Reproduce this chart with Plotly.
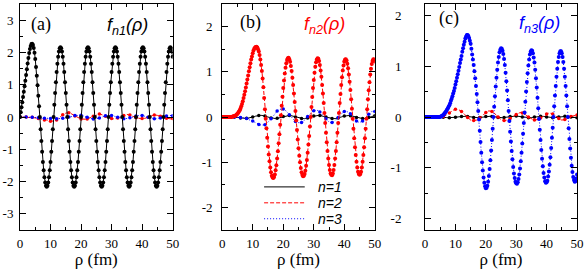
import plotly.graph_objects as go

# ---------------- data ----------------
# coarse grid (0.5 fm) used by the small-amplitude curves
rho = [0.0, 0.5, 1.0, 1.5, 2.0, 2.5, 3.0, 3.5, 4.0, 4.5,
       5.0, 5.5, 6.0, 6.5, 7.0, 7.5, 8.0, 8.5, 9.0, 9.5,
       10.0, 10.5, 11.0, 11.5, 12.0, 12.5, 13.0, 13.5, 14.0, 14.5,
       15.0, 15.5, 16.0, 16.5, 17.0, 17.5, 18.0, 18.5, 19.0, 19.5,
       20.0, 20.5, 21.0, 21.5, 22.0, 22.5, 23.0, 23.5, 24.0, 24.5,
       25.0, 25.5, 26.0, 26.5, 27.0, 27.5, 28.0, 28.5, 29.0, 29.5,
       30.0, 30.5, 31.0, 31.5, 32.0, 32.5, 33.0, 33.5, 34.0, 34.5,
       35.0, 35.5, 36.0, 36.5, 37.0, 37.5, 38.0, 38.5, 39.0, 39.5,
       40.0, 40.5, 41.0, 41.5, 42.0, 42.5, 43.0, 43.5, 44.0, 44.5,
       45.0, 45.5, 46.0, 46.5, 47.0, 47.5, 48.0, 48.5, 49.0, 49.5,
       50.0]

# fine grid (0.25 fm) used by the dominant curve of each panel
rho_fine = [0.0, 0.25, 0.5, 0.75, 1.0, 1.25, 1.5, 1.75,
            2.0, 2.25, 2.5, 2.75, 3.0, 3.25, 3.5, 3.75,
            4.0, 4.25, 4.5, 4.75, 5.0, 5.25, 5.5, 5.75,
            6.0, 6.25, 6.5, 6.75, 7.0, 7.25, 7.5, 7.75,
            8.0, 8.25, 8.5, 8.75, 9.0, 9.25, 9.5, 9.75,
            10.0, 10.25, 10.5, 10.75, 11.0, 11.25, 11.5, 11.75,
            12.0, 12.25, 12.5, 12.75, 13.0, 13.25, 13.5, 13.75,
            14.0, 14.25, 14.5, 14.75, 15.0, 15.25, 15.5, 15.75,
            16.0, 16.25, 16.5, 16.75, 17.0, 17.25, 17.5, 17.75,
            18.0, 18.25, 18.5, 18.75, 19.0, 19.25, 19.5, 19.75,
            20.0, 20.25, 20.5, 20.75, 21.0, 21.25, 21.5, 21.75,
            22.0, 22.25, 22.5, 22.75, 23.0, 23.25, 23.5, 23.75,
            24.0, 24.25, 24.5, 24.75, 25.0, 25.25, 25.5, 25.75,
            26.0, 26.25, 26.5, 26.75, 27.0, 27.25, 27.5, 27.75,
            28.0, 28.25, 28.5, 28.75, 29.0, 29.25, 29.5, 29.75,
            30.0, 30.25, 30.5, 30.75, 31.0, 31.25, 31.5, 31.75,
            32.0, 32.25, 32.5, 32.75, 33.0, 33.25, 33.5, 33.75,
            34.0, 34.25, 34.5, 34.75, 35.0, 35.25, 35.5, 35.75,
            36.0, 36.25, 36.5, 36.75, 37.0, 37.25, 37.5, 37.75,
            38.0, 38.25, 38.5, 38.75, 39.0, 39.25, 39.5, 39.75,
            40.0, 40.25, 40.5, 40.75, 41.0, 41.25, 41.5, 41.75,
            42.0, 42.25, 42.5, 42.75, 43.0, 43.25, 43.5, 43.75,
            44.0, 44.25, 44.5, 44.75, 45.0, 45.25, 45.5, 45.75,
            46.0, 46.25, 46.5, 46.75, 47.0, 47.25, 47.5, 47.75,
            48.0, 48.25, 48.5, 48.75, 49.0, 49.25, 49.5, 49.75,
            50.0]

# panel (a): f_n1
f11 = [0.00, 0.15, 0.30, 0.46, 0.62, 0.78, 0.95, 1.12,
       1.30, 1.48, 1.66, 1.83, 1.98, 2.11, 2.20, 2.26,
       2.27, 2.23, 2.14, 1.99, 1.80, 1.55, 1.28, 0.98,
       0.66, 0.33, 0.00, -0.38, -0.74, -1.08, -1.39, -1.65,
       -1.87, -2.03, -2.13, -2.16, -2.13, -2.03, -1.87, -1.65,
       -1.39, -1.08, -0.74, -0.38, 0.00, 0.38, 0.74, 1.08,
       1.39, 1.65, 1.87, 2.03, 2.13, 2.16, 2.13, 2.03,
       1.87, 1.65, 1.39, 1.08, 0.74, 0.38, 0.00, -0.38,
       -0.74, -1.08, -1.39, -1.65, -1.87, -2.03, -2.13, -2.16,
       -2.13, -2.03, -1.87, -1.65, -1.39, -1.08, -0.74, -0.38,
       0.00, 0.38, 0.74, 1.08, 1.39, 1.65, 1.87, 2.03,
       2.13, 2.16, 2.13, 2.03, 1.87, 1.65, 1.39, 1.08,
       0.74, 0.38, 0.00, -0.38, -0.74, -1.08, -1.39, -1.65,
       -1.87, -2.03, -2.13, -2.16, -2.13, -2.03, -1.87, -1.65,
       -1.39, -1.08, -0.74, -0.38, 0.00, 0.38, 0.74, 1.08,
       1.39, 1.65, 1.87, 2.03, 2.13, 2.16, 2.13, 2.03,
       1.87, 1.65, 1.39, 1.08, 0.74, 0.38, 0.00, -0.38,
       -0.74, -1.08, -1.39, -1.65, -1.87, -2.03, -2.13, -2.16,
       -2.13, -2.03, -1.87, -1.65, -1.39, -1.08, -0.74, -0.38,
       0.00, 0.38, 0.74, 1.08, 1.39, 1.65, 1.87, 2.03,
       2.13, 2.16, 2.13, 2.03, 1.87, 1.65, 1.39, 1.08,
       0.74, 0.38, 0.00, -0.38, -0.74, -1.08, -1.39, -1.65,
       -1.87, -2.03, -2.13, -2.16, -2.13, -2.03, -1.87, -1.65,
       -1.39, -1.08, -0.74, -0.38, 0.00, 0.38, 0.74, 1.08,
       1.39, 1.65, 1.87, 2.03, 2.13, 2.16, 2.13, 2.03,
       1.87]
f21 = [0, 0, 0, 0, 0, 0, 0, -0.01, -0.01, -0.02,
       -0.03, -0.04, -0.05, -0.06, -0.07, -0.08, -0.09, -0.10, -0.11, -0.12,
       -0.13, -0.13, -0.13, -0.12, -0.09, -0.05, -0.01, 0.03, 0.07, 0.10,
       0.12, 0.13, 0.13, 0.12, 0.09, 0.06, 0.03, 0.01, -0.02, -0.04,
       -0.06, -0.07, -0.07, -0.07, -0.06, -0.04, -0.02, 0.00, 0.02, 0.05,
       0.07, 0.08, 0.09, 0.08, 0.07, 0.05, 0.02, 0.00, -0.02, -0.04,
       -0.05, -0.06, -0.06, -0.05, -0.03, -0.01, 0.01, 0.03, 0.05, 0.07,
       0.08, 0.07, 0.06, 0.04, 0.02, 0.00, -0.02, -0.03, -0.04, -0.05,
       -0.05, -0.05, -0.04, -0.02, -0.01, 0.01, 0.03, 0.05, 0.06, 0.06,
       0.05, 0.04, 0.02, 0.01, -0.01, -0.03, -0.04, -0.05, -0.06, -0.06,
       -0.05]
f31 = [0, 0, 0, 0, 0, 0, 0, -0.005, -0.01, -0.01,
       -0.015, -0.02, -0.02, -0.025, -0.03, -0.03, -0.035, -0.04, -0.04, -0.045,
       -0.05, -0.05, -0.055, -0.055, -0.055, -0.055, -0.05, -0.045, -0.04, -0.03,
       -0.02, -0.01, 0.0, 0.015, 0.03, 0.04, 0.05, 0.055, 0.06, 0.06,
       0.055, 0.04, 0.025, 0.01, -0.01, -0.03, -0.045, -0.055, -0.06, -0.06,
       -0.055, -0.045, -0.03, -0.01, 0.01, 0.025, 0.035, 0.045, 0.05, 0.05,
       0.045, 0.035, 0.02, 0.005, -0.01, -0.03, -0.04, -0.05, -0.055, -0.055,
       -0.05, -0.04, -0.025, -0.01, 0.005, 0.02, 0.03, 0.04, 0.045, 0.045,
       0.045, 0.035, 0.02, 0.005, -0.01, -0.025, -0.04, -0.05, -0.055, -0.055,
       -0.05, -0.045, -0.03, -0.015, 0.0, 0.015, 0.03, 0.04, 0.045, 0.045,
       0.04]

# panel (b): f_n2
f12 = [0, 0, 0, 0, 0, 0, 0, 0, 0, 0,
       -0.005, -0.01, -0.02, -0.025, -0.03, -0.03, -0.03, -0.025, -0.02, -0.01,
       0.0, 0.01, 0.02, 0.03, 0.035, 0.035, 0.035, 0.03, 0.02, 0.01,
       0.0, -0.01, -0.02, -0.03, -0.035, -0.035, -0.03, -0.02, -0.01, 0.0,
       0.01, 0.02, 0.03, 0.035, 0.035, 0.03, 0.02, 0.01, 0.0, -0.01,
       -0.02, -0.03, -0.035, -0.035, -0.035, -0.03, -0.02, -0.01, 0.0, 0.01,
       0.02, 0.03, 0.035, 0.035, 0.035, 0.03, 0.02, 0.01, 0.0, -0.01,
       -0.02, -0.03, -0.035, -0.035, -0.035, -0.03, -0.02, -0.01, 0.0, 0.01,
       0.02, 0.03, 0.035, 0.035, 0.03, 0.02, 0.01, 0.0, -0.01, -0.02,
       -0.03, -0.035, -0.035, -0.035, -0.03, -0.02, -0.01, 0.0, 0.01, 0.02,
       0.03]
f22 = [0, 0, 0, 0, 0, 0, 0, 0,
       0, 0, 0, 0, 0, 0.005, 0.01, 0.015,
       0.02, 0.03, 0.04, 0.055, 0.07, 0.095, 0.12, 0.15,
       0.19, 0.24, 0.29, 0.35, 0.42, 0.49, 0.57, 0.65,
       0.74, 0.83, 0.92, 1.01, 1.10, 1.19, 1.27, 1.34,
       1.41, 1.47, 1.51, 1.54, 1.55, 1.555, 1.54, 1.50,
       1.45, 1.37, 1.27, 1.15, 1.02, 0.85, 0.66, 0.42,
       0.17, -0.04, -0.25, -0.46, -0.65, -0.83, -0.98, -1.12,
       -1.22, -1.30, -1.34, -1.35, -1.33, -1.27, -1.18, -1.07,
       -0.92, -0.76, -0.58, -0.38, -0.17, 0.04, 0.25, 0.45,
       0.64, 0.81, 0.96, 1.09, 1.19, 1.26, 1.30, 1.31,
       1.28, 1.22, 1.13, 1.02, 0.87, 0.71, 0.52, 0.33,
       0.13, -0.08, -0.29, -0.50, -0.69, -0.86, -1.00, -1.13,
       -1.22, -1.28, -1.31, -1.30, -1.26, -1.19, -1.08, -0.95,
       -0.79, -0.61, -0.42, -0.21, 0.00, 0.22, 0.44, 0.64,
       0.82, 0.98, 1.11, 1.21, 1.27, 1.30, 1.29, 1.24,
       1.15, 1.03, 0.89, 0.71, 0.52, 0.31, 0.09, -0.13,
       -0.35, -0.56, -0.75, -0.92, -1.06, -1.17, -1.25, -1.28,
       -1.29, -1.25, -1.17, -1.06, -0.92, -0.75, -0.56, -0.35,
       -0.13, 0.09, 0.31, 0.51, 0.71, 0.88, 1.03, 1.14,
       1.23, 1.27, 1.28, 1.25, 1.18, 1.08, 0.94, 0.78,
       0.60, 0.39, 0.18, -0.04, -0.26, -0.47, -0.67, -0.84,
       -0.99, -1.12, -1.21, -1.26, -1.28, -1.26, -1.21, -1.12,
       -0.99, -0.84, -0.67, -0.47, -0.26, -0.04, 0.17, 0.39,
       0.59, 0.77, 0.94, 1.07, 1.17, 1.24, 1.28, 1.27,
       1.23]
f32 = [0, 0, 0, 0, 0, 0, 0, 0, 0, 0,
       -0.005, -0.01, -0.01, -0.015, -0.02, -0.03, -0.035, -0.045, -0.055, -0.07,
       -0.09, -0.11, -0.13, -0.15, -0.165, -0.175, -0.18, -0.18, -0.17, -0.15,
       -0.12, -0.08, -0.04, 0.0, 0.05, 0.09, 0.13, 0.16, 0.175, 0.18,
       0.175, 0.16, 0.13, 0.09, 0.05, 0.01, -0.03, -0.07, -0.10, -0.12,
       -0.13, -0.13, -0.12, -0.10, -0.07, -0.03, 0.01, 0.05, 0.09, 0.12,
       0.14, 0.15, 0.15, 0.14, 0.11, 0.08, 0.04, 0.0, -0.04, -0.08,
       -0.11, -0.12, -0.12, -0.11, -0.08, -0.05, -0.01, 0.03, 0.07, 0.10,
       0.12, 0.13, 0.12, 0.10, 0.07, 0.03, -0.01, -0.05, -0.09, -0.11,
       -0.12, -0.11, -0.09, -0.06, -0.02, 0.02, 0.06, 0.10, 0.12, 0.13,
       0.12]

# panel (c): f_n3
f13 = [0, 0, 0, 0, 0, 0, 0, 0, 0, 0,
       0, 0, -0.005, -0.01, -0.01, -0.015, -0.015, -0.015, -0.01, -0.01,
       -0.005, 0, 0.005, 0.01, 0.01, 0.015, 0.015, 0.015, 0.01, 0.005,
       0, -0.005, -0.01, -0.015, -0.015, -0.015, -0.01, -0.005, 0, 0.005,
       0.01, 0.015, 0.015, 0.015, 0.01, 0.005, 0, -0.005, -0.01, -0.015,
       -0.015, -0.015, -0.01, -0.005, 0, 0.005, 0.01, 0.015, 0.02, 0.02,
       0.02, 0.015, 0.01, 0.005, 0, -0.005, -0.01, -0.015, -0.015, -0.015,
       -0.01, -0.005, 0, 0.005, 0.01, 0.015, 0.015, 0.015, 0.01, 0.005,
       0, -0.005, -0.01, -0.015, -0.015, -0.015, -0.01, -0.005, 0, 0.005,
       0.01, 0.015, 0.015, 0.015, 0.01, 0.005, 0, -0.005, -0.01, -0.015,
       -0.015]
f23 = [0, 0, 0, 0, 0, 0, 0, 0, 0, 0,
       0.0, 0.005, 0.01, 0.02, 0.04, 0.06, 0.08, 0.11, 0.13, 0.14,
       0.15, 0.15, 0.14, 0.13, 0.11, 0.08, 0.05, 0.02, -0.01, -0.04,
       -0.06, -0.07, -0.07, -0.07, -0.06, -0.04, -0.02, 0.0, 0.03, 0.06,
       0.09, 0.11, 0.12, 0.12, 0.11, 0.09, 0.06, 0.03, 0.0, -0.03,
       -0.05, -0.06, -0.07, -0.07, -0.06, -0.05, -0.03, -0.01, 0.01, 0.03,
       0.05, 0.07, 0.08, 0.09, 0.08, 0.07, 0.05, 0.02, 0.0, -0.02,
       -0.04, -0.05, -0.06, -0.06, -0.05, -0.04, -0.02, 0.0, 0.02, 0.04,
       0.06, 0.07, 0.08, 0.07, 0.06, 0.04, 0.02, -0.01, -0.03, -0.05,
       -0.06, -0.06, -0.05, -0.04, -0.03, -0.01, 0.01, 0.02, 0.03, 0.04,
       0.04]
f33 = [0, 0, 0, 0, 0, 0, 0, 0,
       0, 0, 0, 0, 0, 0, 0, 0,
       0, 0, 0, 0.002, 0.005, 0.01, 0.02, 0.03,
       0.04, 0.06, 0.08, 0.10, 0.12, 0.145, 0.17, 0.20,
       0.23, 0.27, 0.32, 0.36, 0.41, 0.46, 0.51, 0.57,
       0.64, 0.70, 0.77, 0.84, 0.91, 0.98, 1.06, 1.13,
       1.20, 1.28, 1.35, 1.42, 1.48, 1.54, 1.58, 1.61,
       1.61, 1.59, 1.55, 1.50, 1.44, 1.34, 1.23, 1.13,
       1.02, 0.90, 0.76, 0.61, 0.45, 0.29, 0.12, -0.05,
       -0.27, -0.49, -0.70, -0.89, -1.05, -1.19, -1.29, -1.36,
       -1.40, -1.39, -1.35, -1.27, -1.16, -1.02, -0.85, -0.66,
       -0.45, -0.23, 0.00, 0.20, 0.41, 0.60, 0.77, 0.93,
       1.07, 1.18, 1.27, 1.32, 1.35, 1.34, 1.30, 1.24,
       1.14, 1.02, 0.87, 0.70, 0.52, 0.33, 0.12, -0.08,
       -0.29, -0.48, -0.67, -0.83, -0.98, -1.11, -1.20, -1.27,
       -1.30, -1.31, -1.28, -1.22, -1.13, -1.01, -0.87, -0.70,
       -0.52, -0.33, -0.12, 0.09, 0.30, 0.50, 0.69, 0.86,
       1.01, 1.13, 1.23, 1.28, 1.31, 1.30, 1.25, 1.17,
       1.07, 0.93, 0.76, 0.58, 0.38, 0.17, -0.04, -0.25,
       -0.45, -0.65, -0.82, -0.97, -1.10, -1.19, -1.26, -1.29,
       -1.28, -1.25, -1.17, -1.07, -0.94, -0.79, -0.61, -0.41,
       -0.21, 0.00, 0.21, 0.42, 0.61, 0.79, 0.95, 1.08,
       1.18, 1.25, 1.29, 1.29, 1.25, 1.18, 1.08, 0.95,
       0.79, 0.61, 0.42, 0.21, 0.00, -0.22, -0.43, -0.62,
       -0.80, -0.96, -1.08, -1.18, -1.24, -1.27, -1.26, -1.21,
       -1.13]

series_names = ["n=1", "n=2", "n=3"]
x_tickvals = [0, 10, 20, 30, 40, 50]
x_ticktext = ["0", "10", "20", "30", "40", "50"]
ya_tickvals = [-3, -2, -1, 0, 1, 2, 3]
ya_ticktext = ["-3", "-2", "-1", "0", "1", "2", "3"]
ybc_tickvals = [-2, -1, 0, 1, 2]
ybc_ticktext = ["-2", "-1", "0", "1", "2"]
panel_tags = ["(a)", "(b)", "(c)"]
panel_titles = ["<i>f</i><sub><i>n1</i></sub><i>(ρ)</i>",
                "<i>f</i><sub><i>n2</i></sub><i>(ρ)</i>",
                "<i>f</i><sub><i>n3</i></sub><i>(ρ)</i>"]

# ---------------- layout helpers ----------------
W, H = 587, 269
ML, MR, MT, MB = 17, 8, 3, 39
PW, PH = W - ML - MR, H - MT - MB
SERIF = "Liberation Serif, Times New Roman, Times, DejaVu Serif, serif"
SANS = "Liberation Sans, Arial, Helvetica, sans-serif"


def px2x(px):
    return (px - ML) / PW


def py2y(py):
    return (H - MB - py) / PH


BLACK, RED, BLUE = "#000000", "#ff0000", "#0000ff"
styles = [dict(color=BLACK, width=1, dash="solid"),
          dict(color=RED, width=1, dash="4px,2px"),
          dict(color=BLUE, width=1, dash="1px,2px")]

panels = [
    dict(ax="", curves=[f11, f21, f31], main=0, xdom=[px2x(17), px2x(171)],
         yrange=[-3.5, 3.5], tv=ya_tickvals, tt=ya_ticktext, stand=3),
    dict(ax="2", curves=[f12, f22, f32], main=1, xdom=[px2x(221), px2x(375)],
         yrange=[-2.5, 2.5], tv=ybc_tickvals, tt=ybc_ticktext, stand=6),
    dict(ax="3", curves=[f13, f23, f33], main=2, xdom=[px2x(425.7), px2x(579)],
         yrange=[-2.22, 2.22], tv=ybc_tickvals, tt=ybc_ticktext, stand=20),
]

fig = go.Figure()
for p in panels:
    order = [i for i in range(3) if i != p["main"]] + [p["main"]]
    for i in order:
        ys = p["curves"][i]
        xa_, ya_ = "x" + p["ax"], "y" + p["ax"]
        if i == p["main"]:
            fig.add_trace(go.Scatter(
                x=rho_fine, y=ys, mode="lines+markers", line=styles[i],
                marker=dict(color=styles[i]["color"], size=4),
                xaxis=xa_, yaxis=ya_, showlegend=False, hoverinfo="skip"))
        else:
            fig.add_trace(go.Scatter(
                x=rho, y=ys, mode="lines", line=styles[i],
                xaxis=xa_, yaxis=ya_, showlegend=False, hoverinfo="skip"))
            fig.add_trace(go.Scatter(
                x=rho[::4], y=ys[::4], mode="markers",
                marker=dict(color=styles[i]["color"], size=3.5),
                xaxis=xa_, yaxis=ya_, showlegend=False, hoverinfo="skip"))

tickfont = dict(family=SERIF, size=13, color="black")
layout = dict(width=W, height=H, margin=dict(l=ML, r=MR, t=MT, b=MB, pad=0),
              paper_bgcolor="white", plot_bgcolor="white", showlegend=False)

for p in panels:
    xa = dict(domain=p["xdom"], range=[0, 50], tickmode="array",
              tickvals=x_tickvals, ticktext=x_ticktext, ticks="inside",
              ticklen=6, tickwidth=1, tickcolor="black", showline=True,
              linecolor="black", linewidth=1, mirror="ticks",
              minor=dict(tickmode="linear", tick0=0, dtick=5, ticks="inside",
                         ticklen=3, tickcolor="black", tickwidth=1),
              showgrid=False, zeroline=False, tickfont=tickfont,
              ticklabelstandoff=1,
              title=dict(text="ρ (fm)", standoff=2,
                         font=dict(family=SERIF, size=17, color="black")),
              anchor="y" + p["ax"])
    ya = dict(domain=[0, 1], range=p["yrange"], tickmode="array",
              tickvals=p["tv"], ticktext=p["tt"], ticks="inside",
              ticklen=6, tickwidth=1, tickcolor="black", showline=True,
              linecolor="black", linewidth=1, mirror="ticks",
              minor=dict(tickmode="linear", tick0=0, dtick=0.5, ticks="inside",
                         ticklen=3, tickcolor="black", tickwidth=1),
              showgrid=False, zeroline=False, tickfont=tickfont,
              ticklabelstandoff=p["stand"], anchor="x" + p["ax"])
    layout["xaxis" + p["ax"]] = xa
    layout["yaxis" + p["ax"]] = ya

tag_pos = [(26, 23.5), (237, 21.5), (438, 17.5)]
title_pos = [(103, 25.5), (302, 24.5), (518, 23.5)]
title_col = [BLACK, RED, BLUE]
ann = []
for k in range(3):
    ann.append(dict(text=panel_tags[k], xref="paper", yref="paper",
                    x=px2x(tag_pos[k][0]), y=py2y(tag_pos[k][1]),
                    xanchor="left", yanchor="middle", showarrow=False,
                    font=dict(family=SERIF, size=18, color="black")))
    ann.append(dict(text=panel_titles[k], xref="paper", yref="paper",
                    x=px2x(title_pos[k][0]), y=py2y(title_pos[k][1]),
                    xanchor="left", yanchor="middle", showarrow=False,
                    font=dict(family=SANS, size=18, color=title_col[k])))

# legend drawn inside panel (b): sample line + italic label per series
shapes = []
legend_rows = [186.7, 202.7, 218.7]
for i in range(3):
    shapes.append(dict(type="line", xref="paper", yref="paper",
                       x0=px2x(263.3), x1=px2x(304.3),
                       y0=py2y(legend_rows[i]), y1=py2y(legend_rows[i]),
                       line=styles[i]))
    ann.append(dict(text=series_names[i], xref="paper", yref="paper",
                    x=px2x(315.5), y=py2y(legend_rows[i]),
                    xanchor="left", yanchor="middle", showarrow=False,
                    font=dict(family=SANS, size=14, style="italic", color="black")))
layout["annotations"] = ann
layout["shapes"] = shapes

fig.update_layout(**layout)
fig.write_html("out.html", config={"displayModeBar": False},
               post_script="document.body.style.margin='0';")
